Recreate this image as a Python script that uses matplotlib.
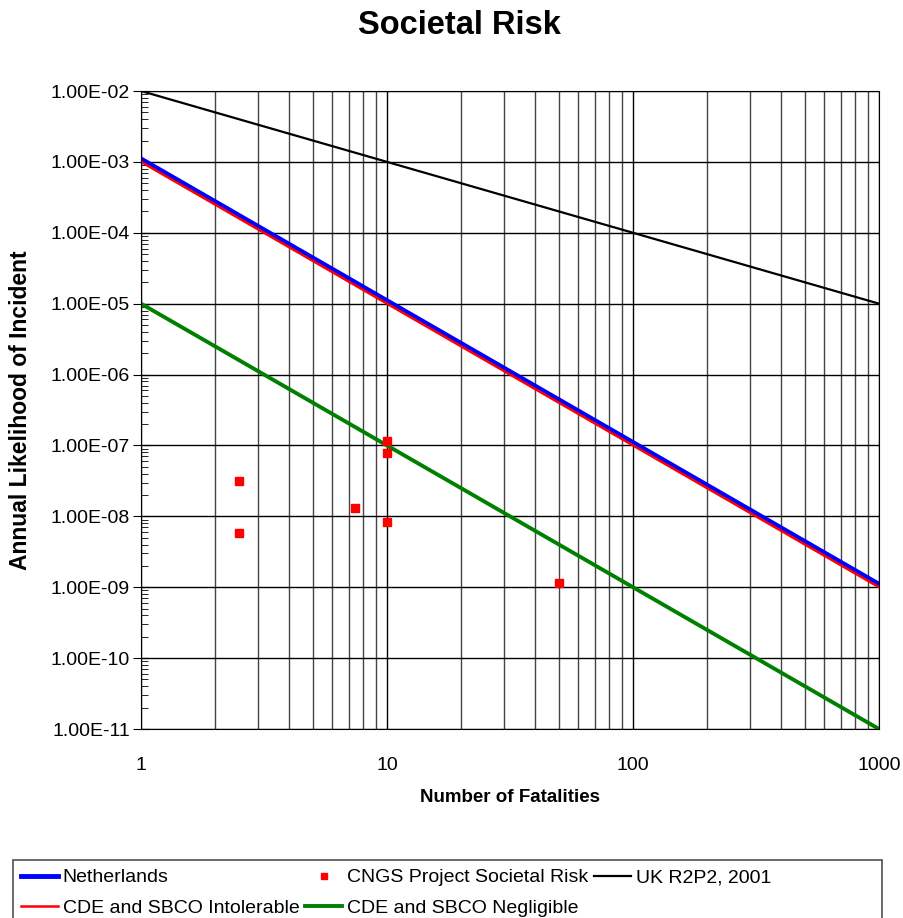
import numpy as np
import matplotlib
matplotlib.use("Agg")
import matplotlib.pyplot as plt
from matplotlib.patches import Rectangle
from matplotlib.ticker import LogLocator, FuncFormatter, NullFormatter

plt.rcParams['font.family'] = ['Liberation Sans', 'DejaVu Sans']

# criteria lines: F-N curves, endpoints at N = 1 and N = 1000
n_line = [1, 1000]
netherlands = [1.1e-3, 1.1e-9]
cde_intolerable = [1e-3, 1e-9]
cde_negligible = [1e-5, 1e-11]
uk_r2p2 = [1e-2, 1e-5]

# CNGS project points
cngs_n = [2.5, 2.5, 7.4, 10, 10, 10, 50]
cngs_f = [3.2e-8, 5.9e-9, 1.3e-8, 1.15e-7, 7.8e-8, 8.3e-9, 1.15e-9]

W, H = 904, 918
fig = plt.figure(figsize=(W / 100, H / 100), dpi=100)
ax = fig.add_axes([141 / W, 1 - 729 / H, 738 / W, 638 / H])

ax.set_xscale('log')
ax.set_yscale('log')
ax.set_xlim(1, 1000)
ax.set_ylim(1e-11, 1e-2)

# grid: all x decades + minors, y only at decades
ax.grid(True, which='major', axis='x', color='black', lw=1)
ax.grid(True, which='minor', axis='x', color='#454545', lw=1)
ax.grid(True, which='major', axis='y', color='black', lw=1)
ax.set_axisbelow(True)

l_neth, = ax.plot(n_line, netherlands, color='blue', lw=3.5, label='Netherlands')
l_int, = ax.plot(n_line, cde_intolerable, color='red', lw=1.8, label='CDE and SBCO Intolerable')
l_neg, = ax.plot(n_line, cde_negligible, color='green', lw=2.8, label='CDE and SBCO Negligible')
l_uk, = ax.plot(n_line, uk_r2p2, color='black', lw=1.6, label='UK R2P2, 2001')
l_cngs, = ax.plot(cngs_n, cngs_f, ls='none', marker='s', ms=6, color='red',
                  label='CNGS Project Societal Risk')

ax.yaxis.set_major_locator(LogLocator(base=10, numticks=20))
ax.yaxis.set_minor_locator(LogLocator(base=10, subs=np.arange(2, 10), numticks=20))
ax.yaxis.set_minor_formatter(NullFormatter())
ax.yaxis.set_major_formatter(FuncFormatter(lambda v, p: '%.2fE-%02d' % (1.0, round(-np.log10(v)))))
ax.xaxis.set_major_formatter(FuncFormatter(lambda v, p: '%d' % round(v)))
ax.xaxis.set_minor_formatter(NullFormatter())
ax.tick_params(axis='y', which='major', direction='inout', length=12, labelsize=14, pad=2)
ax.tick_params(axis='y', which='minor', direction='in', length=5)
ax.tick_params(axis='x', which='both', length=0, labelsize=14, pad=20)

for s in ax.spines.values():
    s.set_color('black')

fig.text(510 / W, 1 - 797 / H, 'Number of Fatalities', ha='center', va='center',
         fontsize=13.5, fontweight='bold')
fig.text(21 / W, 1 - 410 / H, 'Annual Likelihood of Incident', ha='center', va='center',
         rotation=90, fontsize=16.5, fontweight='bold')
fig.text(459 / W, 1 - 25 / H, 'Societal Risk', ha='center', va='center',
         fontsize=23.5, fontweight='bold')

# legend box like the spreadsheet one, running off the bottom edge
fig.patches.append(Rectangle((13 / W, -0.01), 869 / W, 0.01 + 58 / H, transform=fig.transFigure,
                             facecolor='white', edgecolor='#505050', lw=1.2))
handles = [l_neth, l_int, l_cngs, l_neg, l_uk]
leg = fig.legend(handles=handles, labels=[h.get_label() for h in handles], ncol=3,
                 loc='upper left', bbox_to_anchor=(13 / W, 1 - 861 / H),
                 fontsize=14, frameon=False,
                 handlelength=1.9, handletextpad=0.25, columnspacing=0.3,
                 borderaxespad=0, borderpad=0.4, labelspacing=0.65, markerscale=0.65)

fig.savefig('out.png', dpi=100)
